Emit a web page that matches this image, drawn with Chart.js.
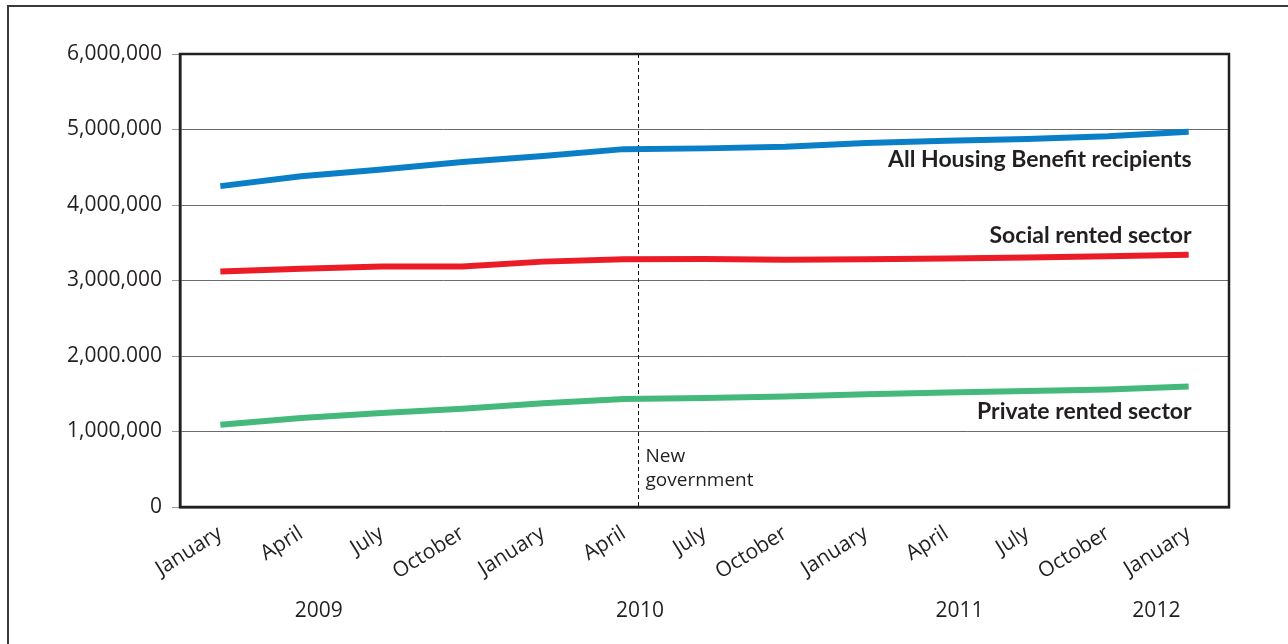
<!DOCTYPE html>
<html>
<head>
<meta charset="utf-8">
<script src="https://cdn.jsdelivr.net/npm/chart.js@4"></script>
<style>
  html, body { margin: 0; padding: 0; background: #fff; }
  #wrap { position: relative; width: 1288px; height: 644px; }
</style>
</head>
<body>
<div id="wrap"><canvas id="myChart" width="1288" height="644"></canvas></div>
<script>
// Quarterly data, January 2009 to January 2012
const months = ['January', 'April', 'July', 'October', 'January', 'April', 'July',
    'October', 'January', 'April', 'July', 'October', 'January'];
const years = ['2009', '2010', '2011', '2012'];
const yearPos = [1.22, 5.2, 9.16, 11.6]; // category index under which each year sits

const allRecipients = [4250000, 4380000, 4470000, 4570000, 4650000, 4740000, 4750000,
    4770000, 4820000, 4850000, 4875000, 4910000, 4970000];
const socialRented = [3120000, 3155000, 3185000, 3185000, 3250000, 3280000, 3285000,
    3275000, 3280000, 3290000, 3305000, 3320000, 3340000];
const privateRented = [1090000, 1180000, 1245000, 1300000, 1375000, 1430000, 1445000,
    1465000, 1495000, 1515000, 1535000, 1555000, 1595000];

const yTickLabels = ['0', '1,000,000', '2,000.000', '3,000,000', '4,000,000', '5,000,000', '6,000,000'];
const seriesNames = ['All Housing Benefit recipients', 'Social rented sector', 'Private rented sector'];
const eventIndex = 5.18;
const eventText = ['New', 'government'];

const textColor = '#231f20';

// Frame, plot border, event marker and labels
const extras = {
    id: 'extras',
    beforeDatasetsDraw(chart) {
        const { ctx, chartArea: a, scales: { x } } = chart;
        const ex = Math.round(x.getPixelForValue(eventIndex)) + 0.5;
        ctx.save();
        ctx.strokeStyle = '#111';
        ctx.lineWidth = 1;
        ctx.setLineDash([4, 3]);
        ctx.beginPath();
        ctx.moveTo(ex, a.top);
        ctx.lineTo(ex, a.bottom);
        ctx.stroke();
        ctx.setLineDash([]);
        ctx.fillStyle = textColor;
        ctx.font = '19px "Open Sans"';
        ctx.textAlign = 'left';
        ctx.textBaseline = 'middle';
        ctx.fillText(eventText[0], ex + 7, a.bottom - 50);
        ctx.fillText(eventText[1], ex + 7, a.bottom - 26);
        ctx.restore();
    },
    afterDraw(chart) {
        const { ctx, chartArea: a, scales: { x } } = chart;
        ctx.save();
        // outer frame (left and top)
        ctx.strokeStyle = '#3a3a3a';
        ctx.lineWidth = 2;
        ctx.beginPath();
        ctx.moveTo(8, chart.height);
        ctx.lineTo(8, 6);
        ctx.lineTo(chart.width, 6);
        ctx.stroke();
        // plot border
        ctx.strokeStyle = '#231f20';
        ctx.lineWidth = 2.5;
        ctx.strokeRect(a.left, a.top, a.right - a.left, a.bottom - a.top);

        // series labels next to line ends
        ctx.fillStyle = textColor;
        ctx.font = 'bold 23px Lato';
        ctx.textAlign = 'right';
        ctx.textBaseline = 'middle';
        const offsets = [28, -19, 25];
        chart.data.datasets.forEach((ds, i) => {
            const meta = chart.getDatasetMeta(i);
            const last = meta.data[meta.data.length - 1];
            ctx.fillText(seriesNames[i], last.x + 3, last.y + offsets[i]);
        });

        // year labels
        ctx.font = '21px "Open Sans"';
        ctx.textAlign = 'center';
        years.forEach((yr, i) => {
            ctx.fillText(yr, x.getPixelForValue(yearPos[i]), 611);
        });
        ctx.restore();
    }
};

new Chart(document.getElementById('myChart').getContext('2d'), {
    type: 'line',
    data: {
        labels: months,
        datasets: [
            { data: allRecipients, borderColor: '#0a7fc8' },
            { data: socialRented, borderColor: '#ec1c27' },
            { data: privateRented, borderColor: '#45b97c' }
        ]
    },
    options: {
        responsive: false,
        animation: false,
        layout: { padding: { top: 54, right: 59, left: 0, bottom: 0 } },
        elements: {
            line: { borderWidth: 6, tension: 0, borderCapStyle: 'butt' },
            point: { radius: 0 }
        },
        plugins: {
            legend: { display: false },
            tooltip: { enabled: false }
        },
        scales: {
            x: {
                offset: true,
                afterFit(scale) { scale.height = 137; },
                grid: { display: false, drawTicks: false },
                border: { color: '#231f20', width: 2.5 },
                ticks: {
                    color: textColor,
                    font: { family: 'Open Sans', size: 21 },
                    minRotation: 32,
                    maxRotation: 32,
                    autoSkip: false,
                    padding: 14
                }
            },
            y: {
                min: 0,
                max: 6000000,
                afterFit(scale) { scale.width = 180; },
                grid: { color: '#6b6b6b', lineWidth: 1, tickLength: 8, tickColor: '#9a9a9a' },
                border: { color: '#231f20', width: 2.5 },
                ticks: {
                    stepSize: 1000000,
                    color: textColor,
                    font: { family: 'Open Sans', size: 21 },
                    padding: 10,
                    callback: (v) => yTickLabels[Math.round(v / 1000000)]
                }
            }
        }
    },
    plugins: [extras]
});
</script>
</body>
</html>
